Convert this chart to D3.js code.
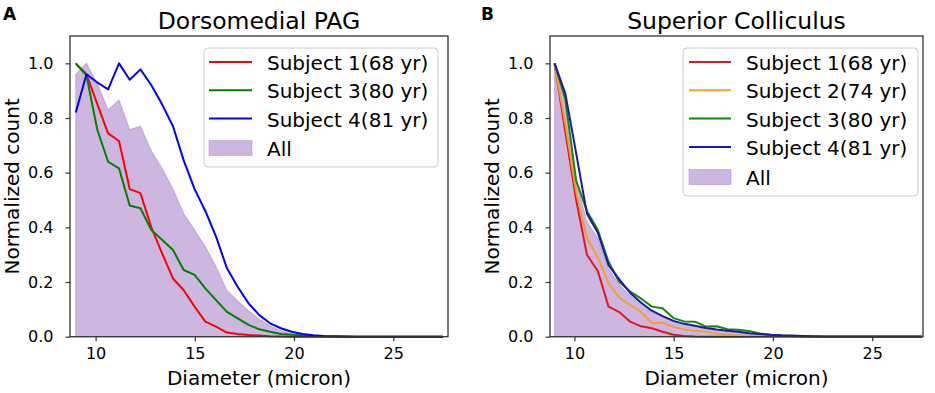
<!DOCTYPE html>
<html>
<head>
<meta charset="utf-8">
<script src="https://cdn.jsdelivr.net/npm/d3@7"></script>
<style>
  html, body { margin: 0; padding: 0; background: #ffffff; }
  svg { display: block; }
  text { font-family: "DejaVu Sans", sans-serif; fill: #000; }
</style>
</head>
<body>
<svg id="chart" width="935" height="393"></svg>
<script>
// ---------- data ----------
const diameters = [9.00, 9.54, 10.09, 10.63, 11.18, 11.72, 12.26, 12.81, 13.35, 13.90,
  14.44, 14.99, 15.53, 16.07, 16.62, 17.16, 17.71, 18.25, 18.79, 19.34,
  19.88, 20.43, 20.97, 21.51, 22.06, 22.60, 23.15, 23.69, 24.24, 24.78,
  25.32, 25.87, 26.41, 26.96, 27.50];

const pagSubject1 = [1.0, 0.96, 0.85, 0.744, 0.716, 0.54, 0.525, 0.40, 0.305, 0.213,
  0.17, 0.11, 0.055, 0.037, 0.015, 0.01, 0.006, 0.004, 0.002, 0.001,
  0, 0, 0, 0, 0, 0, 0, 0, 0, 0, 0, 0, 0, 0, 0];
const pagSubject3 = [1.0, 0.955, 0.756, 0.64, 0.616, 0.48, 0.47, 0.39, 0.355, 0.317,
  0.244, 0.226, 0.177, 0.134, 0.091, 0.067, 0.043, 0.027, 0.018, 0.01,
  0.007, 0.004, 0.002, 0.001, 0, 0, 0, 0, 0, 0, 0, 0, 0, 0, 0];
const pagSubject4 = [0.82, 0.96, 0.93, 0.905, 1.0, 0.94, 0.978, 0.92, 0.85, 0.77,
  0.645, 0.54, 0.46, 0.366, 0.25, 0.183, 0.122, 0.079, 0.049, 0.031,
  0.018, 0.01, 0.005, 0.003, 0.002, 0.001, 0, 0, 0, 0, 0, 0, 0, 0, 0];
const pagAll = [0.96, 1.0, 0.925, 0.83, 0.866, 0.758, 0.77, 0.68, 0.616, 0.54,
  0.45, 0.39, 0.33, 0.256, 0.17, 0.131, 0.095, 0.064, 0.04, 0.022,
  0.011, 0.005, 0.003, 0.001, 0, 0, 0, 0, 0, 0, 0, 0, 0, 0, 0];

const scSubject1 = [1.0, 0.75, 0.50, 0.30, 0.24, 0.11, 0.09, 0.055, 0.038, 0.031,
  0.018, 0.007, 0.003, 0.001, 0, 0, 0, 0, 0, 0,
  0, 0, 0, 0, 0, 0, 0, 0, 0, 0, 0, 0, 0, 0, 0];
const scSubject2 = [1.0, 0.78, 0.53, 0.36, 0.29, 0.195, 0.143, 0.116, 0.092, 0.049,
  0.052, 0.035, 0.026, 0.022, 0.018, 0.012, 0.008, 0.005, 0.003, 0.002,
  0.001, 0, 0, 0, 0, 0, 0, 0, 0, 0, 0, 0, 0, 0, 0];
const scSubject3 = [1.0, 0.87, 0.57, 0.46, 0.39, 0.274, 0.20, 0.165, 0.14, 0.11,
  0.104, 0.068, 0.056, 0.055, 0.037, 0.038, 0.027, 0.025, 0.021, 0.012,
  0.007, 0.004, 0.002, 0.001, 0, 0, 0, 0, 0, 0, 0, 0, 0, 0, 0];
const scSubject4 = [1.0, 0.89, 0.67, 0.45, 0.38, 0.262, 0.21, 0.16, 0.125, 0.095,
  0.075, 0.058, 0.047, 0.04, 0.032, 0.026, 0.022, 0.018, 0.013, 0.01,
  0.007, 0.005, 0.004, 0.003, 0.002, 0.001, 0.001, 0.001, 0.001, 0.001,
  0.001, 0.001, 0.001, 0.001, 0.001];
const scAll = [1.0, 0.85, 0.57, 0.42, 0.36, 0.25, 0.19, 0.15, 0.12, 0.09,
  0.078, 0.055, 0.045, 0.04, 0.03, 0.026, 0.02, 0.016, 0.012, 0.008,
  0.005, 0.003, 0.002, 0.001, 0, 0, 0, 0, 0, 0, 0, 0, 0, 0, 0];

const xTicks = [10, 15, 20, 25];
const yTicks = [0.0, 0.2, 0.4, 0.6, 0.8, 1.0];
const pagLabels = ["Subject 1(68 yr)", "Subject 3(80 yr)", "Subject 4(81 yr)"];
const scLabels = ["Subject 1(68 yr)", "Subject 2(74 yr)", "Subject 3(80 yr)", "Subject 4(81 yr)"];
const allLabel = "All";

// ---------- drawing ----------
const svg = d3.select("#chart");
const FILL = "#9467bd";

function panel(cfg) {
  const g = svg.append("g");
  const x = d3.scaleLinear().domain(cfg.xDomain).range([cfg.left, cfg.right]);
  const y = d3.scaleLinear().domain([0, 1.1]).range([cfg.bottom, cfg.top]);

  // fill "All"
  const area = d3.area().x((d, i) => x(diameters[i])).y0(y(0)).y1(d => y(d));
  g.append("path").datum(cfg.all).attr("d", area)
    .attr("fill", FILL).attr("fill-opacity", 0.47)
    .attr("stroke", FILL).attr("stroke-opacity", 0.35).attr("stroke-width", 1.2);

  // lines
  const line = d3.line().x((d, i) => x(diameters[i])).y(d => y(d));
  cfg.series.forEach(s => {
    g.append("path").datum(s.values).attr("d", line)
      .attr("fill", "none").attr("stroke", s.color).attr("stroke-width", 2)
      .attr("stroke-linejoin", "round");
  });

  // axes
  const ax = g.append("g").attr("transform", `translate(0,${cfg.bottom})`)
    .call(d3.axisBottom(x).tickValues(xTicks).tickSize(4.5).tickPadding(6).tickFormat(d3.format("d")));
  const ay = g.append("g").attr("transform", `translate(${cfg.left},0)`)
    .call(d3.axisLeft(y).tickValues(yTicks).tickSize(4.5).tickPadding(12).tickFormat(d3.format(".1f")));
  [ax, ay].forEach(a => {
    a.select(".domain").remove();
    a.selectAll(".tick line").attr("stroke", "#333").attr("stroke-width", 1.2);
    a.selectAll(".tick text").attr("font-size", 16).attr("font-family", "DejaVu Sans").attr("fill", "#000");
  });

  // frame
  g.append("rect").attr("x", cfg.left).attr("y", cfg.top)
    .attr("width", cfg.right - cfg.left).attr("height", cfg.bottom - cfg.top)
    .attr("fill", "none").attr("stroke", "#333").attr("stroke-width", 1.3);

  // titles / labels
  const cx = (cfg.left + cfg.right) / 2;
  g.append("text").attr("x", cx).attr("y", 29).attr("text-anchor", "middle")
    .attr("font-size", 23.5).text(cfg.title);
  g.append("text").attr("x", cx).attr("y", 385).attr("text-anchor", "middle")
    .attr("font-size", 20).text("Diameter (micron)");
  g.append("text").attr("transform", `translate(${cfg.yLabelX},${(cfg.top + cfg.bottom) / 2}) rotate(-90)`)
    .attr("text-anchor", "middle").attr("font-size", 20).text("Normalized count");
  g.append("text").attr("x", cfg.letterX).attr("y", 20)
    .attr("font-family", "Liberation Sans, Arial, sans-serif").attr("font-weight", "bold")
    .attr("font-size", 17).text(cfg.letter);

  // legend
  const L = cfg.legend;
  const lg = g.append("g");
  lg.append("rect").attr("x", L.x0).attr("y", L.y0).attr("width", L.x1 - L.x0).attr("height", L.y1 - L.y0)
    .attr("rx", 4).attr("fill", "#fff").attr("fill-opacity", 0.8)
    .attr("stroke", "#cccccc").attr("stroke-width", 1);
  cfg.series.forEach((s, i) => {
    const yy = L.rowY[i];
    lg.append("line").attr("x1", L.hx0).attr("x2", L.hx1).attr("y1", yy).attr("y2", yy)
      .attr("stroke", s.color).attr("stroke-width", 2);
    lg.append("text").attr("x", L.tx).attr("y", yy + 8).attr("font-size", 20).text(s.label);
  });
  const py = L.rowY[cfg.series.length];
  lg.append("rect").attr("x", L.hx0).attr("y", py - 7.5).attr("width", L.hx1 - L.hx0).attr("height", 15)
    .attr("fill", FILL).attr("fill-opacity", 0.47).attr("stroke", FILL).attr("stroke-opacity", 0.35);
  lg.append("text").attr("x", L.tx).attr("y", py + 8).attr("font-size", 20).text(allLabel);
}

panel({
  left: 70, right: 448, top: 36, bottom: 336.7, xDomain: [8.71, 27.76],
  title: "Dorsomedial PAG", letter: "A", letterX: 3, yLabelX: 19,
  all: pagAll,
  series: [
    { values: pagSubject1, color: "#ff0000", label: pagLabels[0] },
    { values: pagSubject3, color: "#008000", label: pagLabels[1] },
    { values: pagSubject4, color: "#0000ff", label: pagLabels[2] }
  ],
  legend: { x0: 204, x1: 438, y0: 48, y1: 167, hx0: 209, hx1: 252, tx: 267, rowY: [62, 90.3, 118.6, 148] }
});

panel({
  left: 550, right: 923, top: 36, bottom: 336.7, xDomain: [8.77, 27.56],
  title: "Superior Colliculus", letter: "B", letterX: 481, yLabelX: 499,
  all: scAll,
  series: [
    { values: scSubject1, color: "#e8141e", label: scLabels[0] },
    { values: scSubject2, color: "#f0a035", label: scLabels[1] },
    { values: scSubject3, color: "#0f8a0f", label: scLabels[2] },
    { values: scSubject4, color: "#1a1aa6", label: scLabels[3] }
  ],
  legend: { x0: 683, x1: 918, y0: 48, y1: 196, hx0: 689, hx1: 731, tx: 746, rowY: [62, 90.3, 118.6, 147, 177] }
});
</script>
</body>
</html>
